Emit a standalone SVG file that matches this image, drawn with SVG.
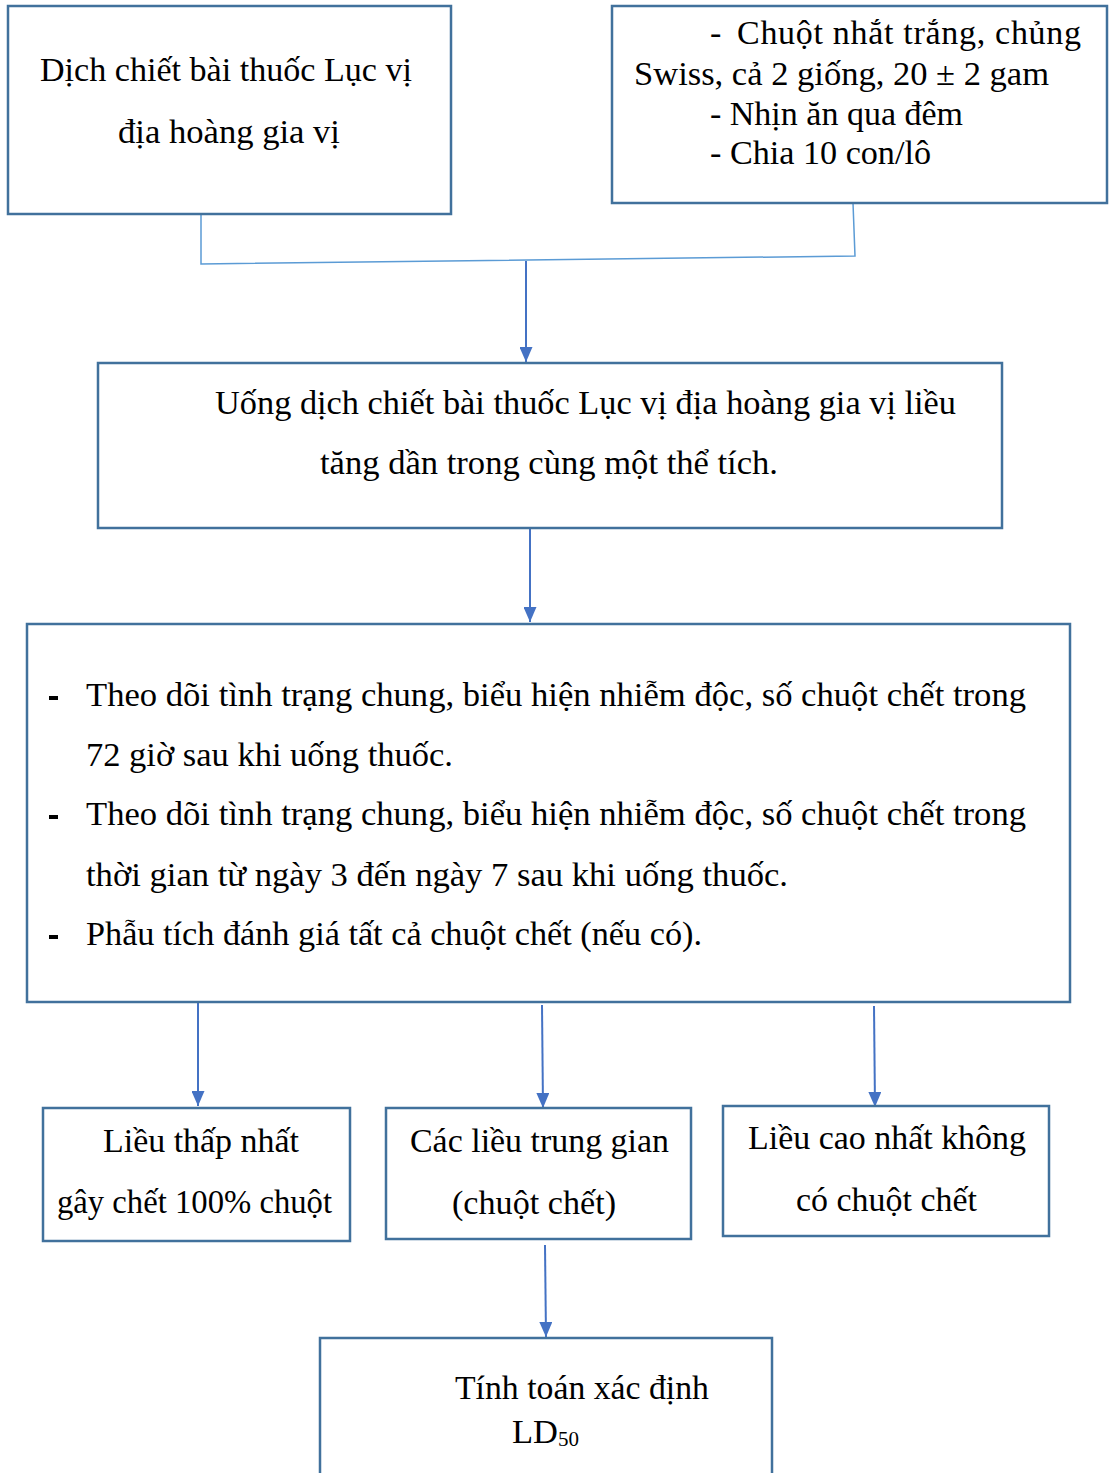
<svg xmlns="http://www.w3.org/2000/svg" width="1111" height="1473" viewBox="0 0 1111 1473">
<style>
.box{fill:#ffffff;stroke:#41719c;stroke-width:2.5}
.t{font-family:"Liberation Serif","Times New Roman",serif;font-size:34px;fill:#000}
.sub{font-family:"Liberation Serif","Times New Roman",serif;font-size:22px;fill:#000}
.elbow{fill:none;stroke:#5b9bd5;stroke-width:1.5}
.arr{fill:none;stroke:#4472c4;stroke-width:2;marker-end:url(#ah)}
.bul{fill:#000}
</style>
<defs>
<marker id="ah" markerUnits="userSpaceOnUse" viewBox="0 0 15 13" markerWidth="15" markerHeight="13" refX="15" refY="6.5" orient="auto">
<path d="M0,0 L15,6.5 L0,13 Z" fill="#4472c4"/>
</marker>
</defs>
<g id="connectors">
<path class="elbow" d="M201,214 L201,264 L855,256 L853,203"/>
<path class="arr" d="M526,261 L526,362"/>
<path class="arr" d="M530,529 L530,622"/>
<path class="arr" d="M198,1003 L198,1106"/>
<path class="arr" d="M542,1005 L543,1108"/>
<path class="arr" d="M874,1006 L875,1107"/>
<path class="arr" d="M545,1245 L546,1337"/>
</g>
<g id="n1">
<rect class="box" x="8" y="6" width="443" height="208"/>
<text class="t" x="40" y="81" textLength="372" lengthAdjust="spacingAndGlyphs">Dịch chiết bài thuốc Lục vị</text>
<text class="t" x="118" y="143" textLength="222" lengthAdjust="spacingAndGlyphs">địa hoàng gia vị</text>
</g>
<g id="n2">
<rect class="box" x="612" y="6" width="495" height="197"/>
<text class="t" x="710" y="44">-</text>
<text class="t" x="737" y="44" textLength="344" lengthAdjust="spacing">Chuột nhắt trắng, chủng</text>
<text class="t" x="634" y="85" textLength="415" lengthAdjust="spacingAndGlyphs">Swiss, cả 2 giống, 20 ± 2 gam</text>
<text class="t" x="710" y="125" textLength="253" lengthAdjust="spacingAndGlyphs">- Nhịn ăn qua đêm</text>
<text class="t" x="710" y="164" textLength="221" lengthAdjust="spacingAndGlyphs">- Chia 10 con/lô</text>
</g>
<g id="n3">
<rect class="box" x="98" y="363" width="904" height="165"/>
<text class="t" x="215" y="414" textLength="741" lengthAdjust="spacingAndGlyphs">Uống dịch chiết bài thuốc Lục vị địa hoàng gia vị liều</text>
<text class="t" x="320" y="474" textLength="458" lengthAdjust="spacingAndGlyphs">tăng dần trong cùng một thể tích.</text>
</g>
<g id="n4">
<rect class="box" x="27" y="624" width="1043" height="378"/>
<rect class="bul" x="49" y="696" width="9" height="4"/>
<rect class="bul" x="49" y="815" width="9" height="4"/>
<rect class="bul" x="49" y="935" width="9" height="4"/>
<text class="t" x="86" y="706" textLength="940" lengthAdjust="spacingAndGlyphs">Theo dõi tình trạng chung, biểu hiện nhiễm độc, số chuột chết trong</text>
<text class="t" x="86" y="766" textLength="367" lengthAdjust="spacingAndGlyphs">72 giờ sau khi uống thuốc.</text>
<text class="t" x="86" y="825" textLength="940" lengthAdjust="spacingAndGlyphs">Theo dõi tình trạng chung, biểu hiện nhiễm độc, số chuột chết trong</text>
<text class="t" x="86" y="886" textLength="702" lengthAdjust="spacingAndGlyphs">thời gian từ ngày 3 đến ngày 7 sau khi uống thuốc.</text>
<text class="t" x="86" y="945" textLength="616" lengthAdjust="spacingAndGlyphs">Phẫu tích đánh giá tất cả chuột chết (nếu có).</text>
</g>
<g id="n5">
<rect class="box" x="43" y="1108" width="307" height="133"/>
<text class="t" x="103" y="1152" textLength="196" lengthAdjust="spacingAndGlyphs">Liều thấp nhất</text>
<text class="t" x="57" y="1213" textLength="275" lengthAdjust="spacingAndGlyphs">gây chết 100% chuột</text>
</g>
<g id="n6">
<rect class="box" x="386" y="1108" width="305" height="131"/>
<text class="t" x="410" y="1152" textLength="259" lengthAdjust="spacingAndGlyphs">Các liều trung gian</text>
<text class="t" x="452" y="1214" textLength="164" lengthAdjust="spacingAndGlyphs">(chuột chết)</text>
</g>
<g id="n7">
<rect class="box" x="723" y="1106" width="326" height="130"/>
<text class="t" x="748" y="1149" textLength="278" lengthAdjust="spacingAndGlyphs">Liều cao nhất không</text>
<text class="t" x="796" y="1211" textLength="181" lengthAdjust="spacingAndGlyphs">có chuột chết</text>
</g>
<g id="n8">
<rect class="box" x="320" y="1338" width="452" height="150"/>
<text class="t" x="455" y="1399" textLength="254" lengthAdjust="spacingAndGlyphs">Tính toán xác định</text>
<text class="t" x="512" y="1443" textLength="46" lengthAdjust="spacingAndGlyphs">LD</text>
<text class="sub" x="558" y="1446" textLength="21" lengthAdjust="spacingAndGlyphs">50</text>
</g>
</svg>
